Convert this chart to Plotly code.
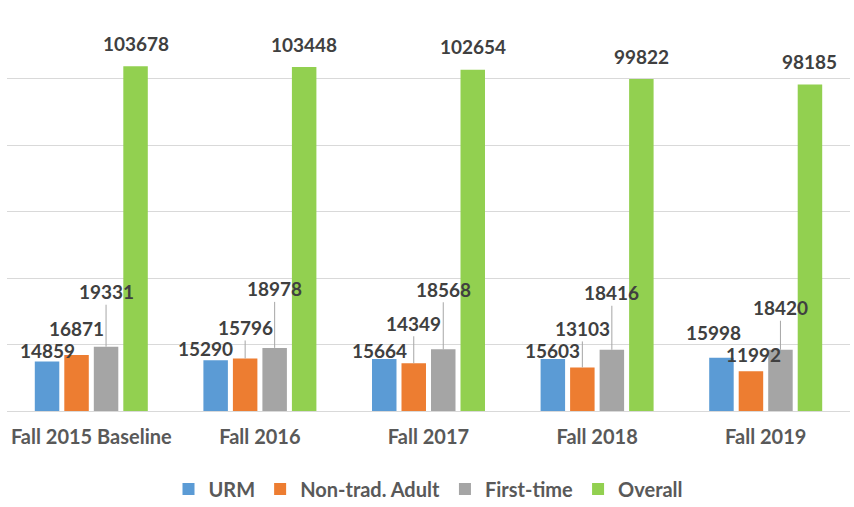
import plotly.graph_objects as go

categories = ["Fall 2015 Baseline", "Fall 2016", "Fall 2017", "Fall 2018", "Fall 2019"]
series_names = ["URM", "Non-trad. Adult", "First-time", "Overall"]
urm = [14859, 15290, 15664, 15603, 15998]
non_trad = [16871, 15796, 14349, 13103, 11992]
first_time = [19331, 18978, 18568, 18416, 18420]
overall = [103678, 103448, 102654, 99822, 98185]
values = [urm, non_trad, first_time, overall]
colors = ["#5b9bd5", "#ed7d31", "#a5a5a5", "#92d050"]

# label placement (pixel offsets from bar top) and leader-line flags, Excel-style
label_dx = [[0, -10, -5, 0, -8], [0, 0, 0, 0, 3], [0, 0, 0, 0, 0], [0, 0, 0, 0, 0]]
label_dy = [[-11, -12, -8, -9, -25], [-26, -31, -40, -39, -17], [-55, -59, -60, -57, -42], [-23, -23, -23, -23, -23]]
leader = [[0, 0, 0, 0, 0], [0, 1, 1, 1, 0], [1, 1, 1, 1, 1], [0, 0, 0, 0, 0]]

BARGAP = 0.3
LABEL_FONT = dict(family="Lato", size=19, color="#404040", weight="bold")
TEXT_FONT = dict(family="Lato", size=20, color="#595959", weight="bold")

fig = go.Figure()
for name, vals, col in zip(series_names, values, colors):
    fig.add_trace(go.Bar(name=name, x=categories, y=vals, marker=dict(color=col, line=dict(width=0))))

n = len(series_names)
slot = (1 - BARGAP) / n
annotations = []
for i in range(n):
    off = -(1 - BARGAP) / 2 + (i + 0.5) * slot
    for j, v in enumerate(values[i]):
        annotations.append(dict(
            x=j + off, y=v, xref="x", yref="y", text=str(v),
            showarrow=True, arrowhead=0, arrowwidth=1,
            arrowcolor="#a6a6a6" if leader[i][j] else "rgba(0,0,0,0)",
            ax=label_dx[i][j], ay=label_dy[i][j], font=LABEL_FONT,
        ))

fig.update_layout(
    width=854, height=507,
    margin=dict(l=7, r=4, t=11, b=96, autoexpand=False),
    paper_bgcolor="white", plot_bgcolor="white",
    barmode="group", bargap=BARGAP, bargroupgap=0.17,
    annotations=annotations,
    showlegend=True,
    legend=dict(orientation="h", x=0.5, xanchor="center", y=-0.195, yanchor="middle",
                font=TEXT_FONT, itemwidth=30, traceorder="normal"),
    xaxis=dict(type="category", showgrid=False, showline=False, ticks="", automargin=False,
               ticklabelstandoff=12, tickfont=TEXT_FONT),
    yaxis=dict(range=[0, 120300], tickvals=[0, 20000, 40000, 60000, 80000, 100000, 120000],
               showticklabels=False, showgrid=True, automargin=False,
               gridcolor="#d9d9d9", gridwidth=1.3, zeroline=True, zerolinecolor="#d9d9d9",
               zerolinewidth=1.3, showline=False),
)

fig.write_html("out.html", config={"displayModeBar": False},
               post_script="document.body.style.margin='0';")
